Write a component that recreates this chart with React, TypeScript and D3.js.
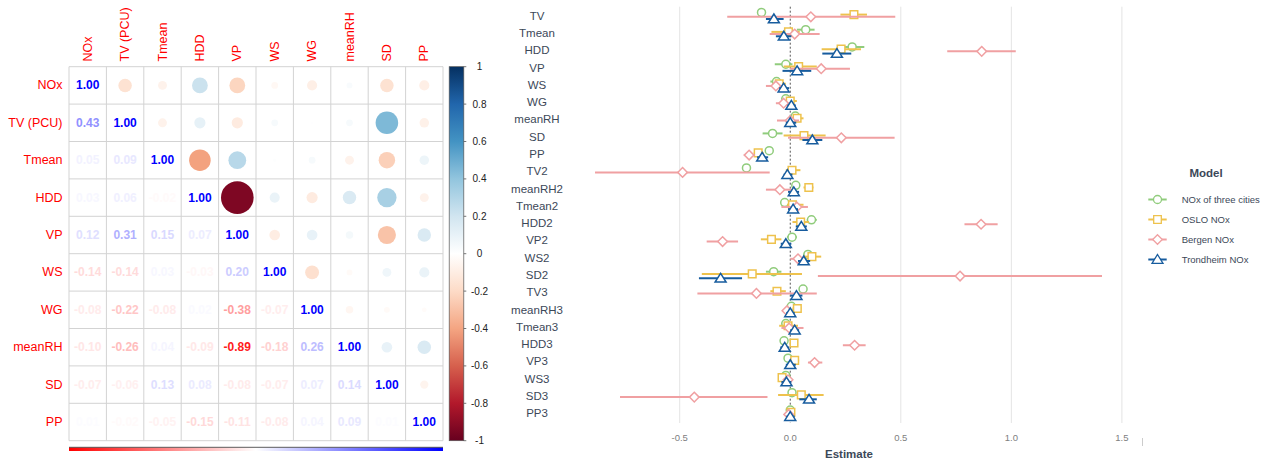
import React from "react";
import * as d3 from "d3";

// ---------- Correlation matrix data ----------
const vars = ["NOx", "TV (PCU)", "Tmean", "HDD", "VP", "WS", "WG", "meanRH", "SD", "PP"];
const colLabels = ["NOx", "TV (PCU)", "Tmean", "HDD", "VP", "WS", "WG", "meanRH", "SD", "PP"];
// lower triangle (printed numbers), row i has i values
const lowerVals: number[][] = [
  [],
  [0.43],
  [0.05, 0.09],
  [0.03, 0.06, -0.02],
  [0.12, 0.31, 0.15, 0.07],
  [-0.14, -0.14, 0.03, -0.03, 0.2],
  [-0.08, -0.22, -0.08, 0.02, -0.38, -0.07],
  [-0.1, -0.26, 0.04, -0.09, -0.89, -0.18, 0.26],
  [-0.07, -0.06, 0.13, 0.08, -0.08, -0.07, 0.07, 0.14],
  [0.01, -0.02, -0.05, -0.15, -0.11, -0.08, 0.04, 0.09, 0.01],
];
// upper triangle (circles), row i has values for columns i+1..9
const upperVals: number[][] = [
  [-0.16, -0.07, 0.22, -0.22, -0.04, -0.09, 0.03, -0.16, -0.09],
  [-0.07, 0.11, -0.11, 0.04, 0.005, 0.04, 0.45, -0.08],
  [-0.41, 0.28, 0.01, 0.04, -0.07, -0.24, 0.08],
  [-0.94, 0.09, -0.11, 0.16, 0.33, -0.07],
  [-0.1, 0.1, 0.05, -0.29, 0.16],
  [-0.17, -0.03, 0.07, 0.09],
  [-0.05, -0.03, -0.02],
  [0.1, 0.16],
  [-0.06],
  [],
];
const colorbarTicks = [1, 0.8, 0.6, 0.4, 0.2, 0, -0.2, -0.4, -0.6, -0.8, -1];
const rdbu = ["#67001F", "#B2182B", "#D6604D", "#F4A582", "#FDDBC7", "#FFFFFF", "#D1E5F0", "#92C5DE", "#4393C3", "#2166AC", "#053061"];

// ---------- Coefficient plot data ----------
const terms = ["TV", "Tmean", "HDD", "VP", "WS", "WG", "meanRH", "SD", "PP", "TV2", "meanRH2", "Tmean2", "HDD2", "VP2", "WS2", "SD2", "TV3", "meanRH3", "Tmean3", "HDD3", "VP3", "WS3", "SD3", "PP3"];
const modelNames = ["NOx of three cities", "OSLO NOx", "Bergen NOx", "Trondheim NOx"];
const modelColors = ["#90CC7C", "#EEC24D", "#F0A0A2", "#175C9E"];
const modelShapes = ["circle", "square", "diamond", "triangle"];

const est3 = [-0.13, 0.07, 0.28, -0.02, -0.062, -0.02, 0.023, -0.08, -0.095, -0.198, 0.025, -0.025, 0.096, 0.008, 0.08, -0.075, 0.058, 0.005, -0.02, -0.028, -0.01, -0.02, 0.008, 0.0];
const lo3 = [-0.15, 0.03, 0.24, -0.07, -0.09, -0.04, 0.0, -0.125, -0.11, -0.21, 0.01, -0.045, 0.075, -0.015, 0.06, -0.11, 0.045, -0.005, -0.04, -0.045, -0.02, -0.03, -0.01, -0.01];
const hi3 = [-0.11, 0.11, 0.335, 0.01, -0.04, 0.0, 0.045, -0.035, -0.08, -0.185, 0.04, -0.005, 0.12, 0.03, 0.1, -0.04, 0.07, 0.015, 0.0, -0.01, 0.0, -0.01, 0.025, 0.01];

const estO = [0.288, -0.008, 0.23, 0.038, -0.05, 0.0, 0.031, 0.062, -0.145, 0.008, 0.084, 0.01, 0.047, -0.085, 0.098, -0.172, -0.06, 0.032, -0.01, 0.017, 0.02, -0.037, 0.05, 0.003];
const loO = [0.227, -0.085, 0.142, -0.03, -0.08, -0.03, 0.0, -0.03, -0.165, -0.02, 0.06, -0.015, 0.01, -0.133, 0.06, -0.4, -0.09, 0.01, -0.05, 0.0, 0.0, -0.055, -0.055, -0.01];
const hiO = [0.347, 0.043, 0.32, 0.12, -0.02, 0.03, 0.06, 0.16, -0.12, 0.046, 0.105, 0.06, 0.085, -0.04, 0.14, 0.053, -0.02, 0.05, 0.035, 0.035, 0.04, -0.02, 0.151, 0.015];

const estB = [0.093, 0.02, 0.866, 0.14, -0.065, -0.03, 0.0, 0.231, -0.186, -0.487, -0.047, 0.03, 0.863, -0.306, 0.035, 0.768, -0.153, -0.015, -0.005, 0.291, 0.11, -0.01, -0.434, -0.007];
const loB = [-0.285, -0.093, 0.71, 0.0, -0.11, -0.065, -0.06, -0.01, -0.21, -0.883, -0.11, -0.04, 0.788, -0.378, 0.0, 0.125, -0.42, -0.035, -0.04, 0.238, 0.08, -0.03, -0.77, -0.02];
const hiB = [0.475, 0.133, 1.02, 0.27, -0.03, 0.005, 0.04, 0.472, -0.16, -0.093, 0.013, 0.08, 0.938, -0.236, 0.07, 1.41, 0.12, 0.005, 0.06, 0.341, 0.145, 0.01, -0.103, 0.01];

const estT = [-0.074, -0.029, 0.211, 0.031, -0.03, 0.005, 0.0, 0.1, -0.127, -0.013, 0.016, 0.013, 0.05, -0.02, 0.061, -0.315, 0.028, 0.0, 0.02, -0.025, 0.0, -0.017, 0.085, 0.0];
const loT = [-0.11, -0.065, 0.145, -0.035, -0.05, -0.012, -0.02, 0.055, -0.15, -0.03, -0.01, -0.01, 0.025, -0.043, 0.035, -0.413, 0.0, -0.018, 0.0, -0.045, -0.02, -0.04, 0.041, -0.018];
const hiT = [-0.03, 0.005, 0.276, 0.095, -0.005, 0.025, 0.027, 0.145, -0.1, 0.01, 0.04, 0.035, 0.075, 0.005, 0.09, -0.218, 0.055, 0.02, 0.04, -0.005, 0.025, 0.005, 0.12, 0.02];

const xTicks = [-0.5, 0.0, 0.5, 1.0, 1.5];

const FONT = "'Liberation Sans', Arial, Helvetica, sans-serif";

function shapePath(shape: string, x: number, y: number): string {
  switch (shape) {
    case "circle":
      return `M${x + 4},${y} A4,4 0 1,1 ${x - 4},${y} A4,4 0 1,1 ${x + 4},${y} Z`;
    case "square":
      return `M${x - 3.8},${y - 3.8} H${x + 3.8} V${y + 3.8} H${x - 3.8} Z`;
    case "diamond":
      return `M${x},${y - 4.8} L${x + 4.8},${y} L${x},${y + 4.8} L${x - 4.8},${y} Z`;
    default:
      return `M${x},${y - 5} L${x + 5.5},${y + 3.8} L${x - 5.5},${y + 3.8} Z`;
  }
}

export default function App() {
  // ---- matrix geometry
  const gx0 = 69, gy0 = 66.7, gsize = 374;
  const n = vars.length;
  const band = d3.scaleBand<number>().domain(d3.range(n)).range([0, gsize]);
  const cell = band.bandwidth();
  const circColor = d3.scaleLinear<string>().domain(d3.range(11).map((i) => -1 + i * 0.2)).range(rdbu).interpolate(d3.interpolateRgb);
  const numColor = d3.scaleLinear<string>().domain([-1, 0, 1]).range(["#FF0000", "#FFFFFF", "#0000FF"]);
  const cbY = d3.scaleLinear().domain([1, -1]).range([gy0, gy0 + gsize]);

  // ---- coef plot geometry
  const x = d3.scaleLinear().domain([-0.5, 1.5]).range([679.7, 1121.9]);
  const y = d3.scalePoint<string>().domain(terms).range([15.7, 413.3]);
  const dodge = [-3.3, -1.1, 1.1, 3.3];
  const models = [
    { est: est3, lo: lo3, hi: hi3 },
    { est: estO, lo: loO, hi: hiO },
    { est: estB, lo: loB, hi: hiB },
    { est: estT, lo: loT, hi: hiT },
  ];
  const panelTop = 6.7, panelBottom = 423;
  const textCol = "#3C4858";

  return (
    <svg width={1269} height={465} style={{ position: "absolute", left: 0, top: 0, background: "#fff" }} fontFamily={FONT}>
      <defs>
        <linearGradient id="cbGrad" x1="0" y1="0" x2="0" y2="1">
          {rdbu.slice().reverse().map((c, i) => (
            <stop key={i} offset={`${i * 10}%`} stopColor={c} />
          ))}
        </linearGradient>
        <linearGradient id="numGrad" x1="0" y1="0" x2="1" y2="0">
          <stop offset="0%" stopColor="#FF0000" />
          <stop offset="50%" stopColor="#FFFFFF" />
          <stop offset="100%" stopColor="#0000FF" />
        </linearGradient>
      </defs>

      {/* ===== Correlation matrix ===== */}
      <g>
        {/* upper: circles */}
        {upperVals.map((row, i) =>
          row.map((v, k) => {
            const j = i + 1 + k;
            const cx = gx0 + band(j)! + cell / 2;
            const cy = gy0 + band(i)! + cell / 2;
            return <circle key={`c${i}-${j}`} cx={cx} cy={cy} r={0.45 * Math.sqrt(Math.abs(v)) * cell} fill={circColor(v)} />;
          })
        )}
        {/* grid */}
        {d3.range(n + 1).map((k) => (
          <g key={`g${k}`}>
            <line x1={gx0 + k * cell} x2={gx0 + k * cell} y1={gy0} y2={gy0 + gsize} stroke="#D3D3D3" strokeWidth={1} />
            <line x1={gx0} x2={gx0 + gsize} y1={gy0 + k * cell} y2={gy0 + k * cell} stroke="#D3D3D3" strokeWidth={1} />
          </g>
        ))}
        {/* diagonal */}
        {vars.map((_, i) => (
          <text key={`d${i}`} x={gx0 + band(i)! + cell / 2} y={gy0 + band(i)! + cell / 2} textAnchor="middle" dominantBaseline="central" fontSize={12} fontWeight="bold" fill="#0000FF">
            1.00
          </text>
        ))}
        {/* lower numbers */}
        {lowerVals.map((row, i) =>
          row.map((v, j) => (
            <text key={`n${i}-${j}`} x={gx0 + band(j)! + cell / 2} y={gy0 + band(i)! + cell / 2} textAnchor="middle" dominantBaseline="central" fontSize={12} fontWeight="bold" fill={numColor(v)}>
              {v.toFixed(2)}
            </text>
          ))
        )}
        {/* row labels */}
        {vars.map((v, i) => (
          <text key={`r${i}`} x={62.5} y={gy0 + band(i)! + cell / 2} textAnchor="end" dominantBaseline="central" fontSize={12.5} fill="#FF0000">
            {v}
          </text>
        ))}
        {/* column labels */}
        {colLabels.map((v, j) => {
          const cx = gx0 + band(j)! + cell / 2;
          return (
            <text key={`cl${j}`} transform={`translate(${cx},61.5) rotate(-90)`} textAnchor="start" dominantBaseline="central" fontSize={12.5} fill="#FF0000">
              {v}
            </text>
          );
        })}
        {/* bottom number-colour bar */}
        <rect x={gx0} y={447.5} width={gsize} height={3.5} fill="url(#numGrad)" />
        <line x1={gx0} x2={gx0 + gsize} y1={447.3} y2={447.3} stroke="#333" strokeWidth={0.8} />
        {/* colour bar */}
        <rect x={449.2} y={gy0} width={14.6} height={gsize} fill="url(#cbGrad)" stroke="#555" strokeWidth={0.7} />
        {colorbarTicks.map((t) => (
          <g key={`cb${t}`}>
            <line x1={463.8} x2={466.3} y1={cbY(t)} y2={cbY(t)} stroke="#555" strokeWidth={0.8} />
            <text x={479.5} y={cbY(t)} textAnchor="middle" dominantBaseline="central" fontSize={10} fill="#222">
              {t}
            </text>
          </g>
        ))}
      </g>

      {/* ===== Coefficient plot ===== */}
      <g>
        {xTicks.filter((t) => t !== 0).map((t) => (
          <line key={`gl${t}`} x1={x(t)} x2={x(t)} y1={panelTop} y2={panelBottom} stroke="#E4E4E4" strokeWidth={1} />
        ))}
        <line x1={x(0)} x2={x(0)} y1={panelTop} y2={panelBottom} stroke="#555" strokeWidth={1} strokeDasharray="2,2" />
        {/* y labels */}
        {terms.map((t) => (
          <text key={`yl${t}`} x={537} y={y(t)!} textAnchor="middle" dominantBaseline="central" fontSize={11.5} fill={textCol}>
            {t}
          </text>
        ))}
        {/* x tick labels */}
        {xTicks.map((t) => (
          <text key={`xt${t}`} x={x(t)} y={437} textAnchor="middle" dominantBaseline="central" fontSize={9.5} fill="#808080">
            {t.toFixed(1)}
          </text>
        ))}
        <line x1={1142.5} x2={1142.5} y1={438} y2={446} stroke="#CCCCCC" strokeWidth={1} />
        <text x={849} y={454} textAnchor="middle" dominantBaseline="central" fontSize={11.5} fontWeight="bold" fill={textCol}>
          Estimate
        </text>
        {/* error bars & points */}
        {models.map((m, mi) => (
          <g key={`m${mi}`}>
            {terms.map((t, ti) => {
              const yy = y(t)! + dodge[mi];
              return (
                <g key={`p${mi}-${ti}`}>
                  <line x1={x(m.lo[ti])} x2={x(m.hi[ti])} y1={yy} y2={yy} stroke={modelColors[mi]} strokeWidth={2} />
                  <path d={shapePath(modelShapes[mi], x(m.est[ti]), yy)} fill="#FFFFFF" stroke={modelColors[mi]} strokeWidth={1.5} />
                </g>
              );
            })}
          </g>
        ))}
        {/* legend */}
        <text x={1206} y={173.3} textAnchor="middle" dominantBaseline="central" fontSize={11.5} fontWeight="bold" fill={textCol}>
          Model
        </text>
        {modelNames.map((name, i) => {
          const ly = 199.5 + i * 20;
          return (
            <g key={`lg${i}`}>
              <line x1={1148.3} x2={1166.7} y1={ly} y2={ly} stroke={modelColors[i]} strokeWidth={2} />
              <path d={shapePath(modelShapes[i], 1157.5, ly)} fill="#FFFFFF" stroke={modelColors[i]} strokeWidth={1.3} />
              <text x={1181.7} y={ly} dominantBaseline="central" fontSize={9.5} fill={textCol}>
                {name}
              </text>
            </g>
          );
        })}
      </g>
    </svg>
  );
}
